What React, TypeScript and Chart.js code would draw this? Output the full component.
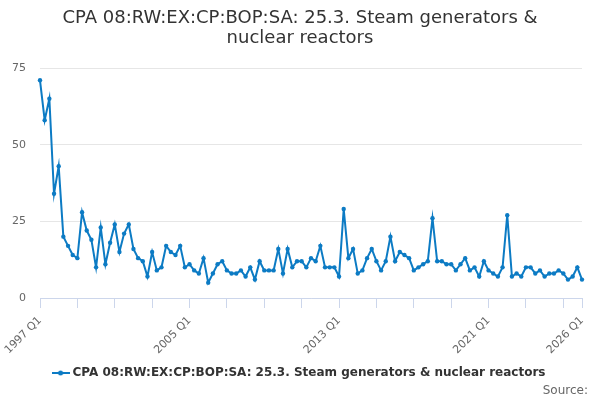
import { useEffect, useRef } from 'react';
import { Chart, registerables } from 'chart.js';

Chart.register(...registerables);

// quarterly values, 1997 Q1 .. 2026 Q1
const values = [
  71, 58, 65, 34, 43, 20, 17, 14, 13, 28, 22, 19, 10, 23, 11, 18,
  24, 15, 21, 24, 16, 13, 12, 7, 15, 9, 10, 17, 15, 14, 17, 10,
  11, 9, 8, 13, 5, 8, 11, 12, 9, 8, 8, 9, 7, 10, 6, 12,
  9, 9, 9, 16, 8, 16, 10, 12, 12, 10, 13, 12, 17, 10, 10, 10,
  7, 29, 13, 16, 8, 9, 13, 16, 12, 9, 12, 20, 12, 15, 14, 13,
  9, 10, 11, 12, 26, 12, 12, 11, 11, 9, 11, 13, 9, 10, 7, 12,
  9, 8, 7, 10, 27, 7, 8, 7, 10, 10, 8, 9, 7, 8, 8, 9,
  8, 6, 7, 10, 6,
];

const startYear = 1997;
const quarters: string[] = values.map((_, i) => `${startYear + Math.floor(i / 4)} Q${(i % 4) + 1}`);

const xTickLabels = ['1997 Q1', '2005 Q1', '2013 Q1', '2021 Q1', '2026 Q1'];
const tickEvery = 8;
const yTicks = [0, 25, 50, 75];

const seriesName = 'CPA 08:RW:EX:CP:BOP:SA: 25.3. Steam generators & nuclear reactors';
const titleLines = ['CPA 08:RW:EX:CP:BOP:SA: 25.3. Steam generators &', 'nuclear reactors'];

const LINE = '#0c7bc4';

function legendSymbol() {
  const c = document.createElement('canvas');
  c.width = 18;
  c.height = 8;
  const g = c.getContext('2d')!;
  g.strokeStyle = LINE;
  g.lineWidth = 2;
  g.beginPath();
  g.moveTo(0, 4);
  g.lineTo(18, 4);
  g.stroke();
  g.fillStyle = LINE;
  g.beginPath();
  g.arc(9, 4, 2.5, 0, Math.PI * 2);
  g.fill();
  return c;
}

const sourcePlugin = {
  id: 'sourceText',
  afterDraw(chart: Chart) {
    const ctx = chart.ctx;
    ctx.save();
    ctx.font = '12px "DejaVu Sans"';
    ctx.fillStyle = '#666666';
    ctx.textAlign = 'right';
    ctx.textBaseline = 'middle';
    ctx.fillText('Source:', 588, 391);
    ctx.restore();
  },
};

export default function App() {
  const canvasRef = useRef<HTMLCanvasElement | null>(null);
  const chartRef = useRef<Chart | null>(null);

  useEffect(() => {
    const ctx = canvasRef.current?.getContext('2d');
    if (!ctx) return;
    Chart.defaults.font.family = '"DejaVu Sans", sans-serif';

    const last = values.length - 1;
    const symbol = legendSymbol();

    chartRef.current?.destroy();
    chartRef.current = new Chart(ctx, {
      type: 'line',
      data: {
        labels: quarters,
        datasets: [
          {
            label: seriesName,
            data: values,
            borderColor: LINE,
            backgroundColor: LINE,
            borderWidth: 2,
            pointRadius: 2.2,
            pointBorderWidth: 0,
            pointHoverRadius: 3,
            tension: 0,
          },
        ],
      },
      options: {
        animation: false,
        responsive: true,
        maintainAspectRatio: false,
        layout: { padding: { left: 0, right: 0, top: 0, bottom: 11 } },
        plugins: {
          title: {
            display: true,
            text: titleLines,
            color: '#333333',
            font: { size: 18, weight: 'normal', lineHeight: '20px' },
            padding: { top: 8, bottom: 20 },
          },
          legend: {
            position: 'bottom',
            labels: {
              color: '#333333',
              font: { size: 12, weight: 'bold' },
              usePointStyle: true,
              padding: 10,
              generateLabels: () => [
                {
                  text: seriesName,
                  pointStyle: symbol,
                  fillStyle: LINE,
                  strokeStyle: LINE,
                  lineWidth: 0,
                  datasetIndex: 0,
                  hidden: false,
                  fontColor: '#333333',
                },
              ],
            },
          },
          tooltip: { enabled: true },
        },
        scales: {
          x: {
            type: 'category',
            afterBuildTicks: (scale: any) => {
              scale.ticks = scale.ticks.filter((t: any) => t.value % tickEvery === 0 || t.value === last);
            },
            afterFit: (scale: any) => {
              scale.height = 59;
              scale.paddingRight = 18;
            },
            grid: {
              drawOnChartArea: false,
              drawTicks: true,
              tickLength: 10,
              color: '#ccd6eb',
            },
            border: { display: true, color: '#ccd6eb' },
            ticks: {
              autoSkip: false,
              minRotation: 45,
              maxRotation: 45,
              padding: 6,
              color: '#666666',
              font: { size: 11 },
              callback: (value: any) => {
                const q = quarters[Number(value)];
                return xTickLabels.includes(q) ? q : '';
              },
            },
          },
          y: {
            min: 0,
            max: 75,
            afterBuildTicks: (scale: any) => {
              scale.ticks = yTicks.map((v) => ({ value: v }));
            },
            afterFit: (scale: any) => {
              scale.width = 40;
            },
            grid: { color: '#e6e6e6', drawTicks: false },
            border: { display: false },
            ticks: {
              padding: 14,
              color: '#666666',
              font: { size: 11 },
            },
          },
        },
      },
      plugins: [sourcePlugin],
    });

    return () => {
      chartRef.current?.destroy();
      chartRef.current = null;
    };
  }, []);

  return (
    <div style={{ position: 'absolute', left: 0, top: 0, width: 600, height: 400 }}>
      <canvas ref={canvasRef}></canvas>
    </div>
  );
}
